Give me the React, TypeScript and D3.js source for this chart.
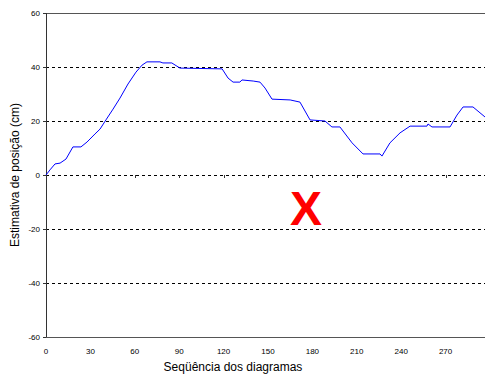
import React from "react";
import * as d3 from "d3";

// sequence index (diagram number) and estimated position in cm
const seqX = [
  0, 2.7, 6.1, 9.5, 13.5, 18.2, 23.6, 27.7, 33.1, 36.5, 40.5, 45.3, 50, 55.4, 60.8, 64.9,
  68.2, 77, 79, 85, 90.5, 119, 123, 126.4, 131, 132.4, 140, 144.6, 148, 152.7, 165, 171.6,
  178.4, 188.5, 193.2, 198.6, 206.8, 214.2, 225.7, 227, 232.4, 239.2, 246, 257.4, 258.1,
  260.8, 273, 277.7, 281.8, 288.5, 296.6, 300,
];
const posY = [
  0, 1.9, 4.1, 4.4, 5.9, 10.4, 10.4, 12.2, 15.2, 17, 20.4, 24.4, 28.5, 33.7, 38.1, 40.7,
  41.9, 41.9, 41.5, 41.5, 39.6, 39.3, 35.9, 34.4, 34.4, 35.2, 34.8, 34.4, 32.2, 28.1, 27.8, 27,
  20.4, 20, 17.8, 17.8, 11.9, 7.8, 7.8, 7, 11.9, 15.6, 18.1, 18.1, 18.9,
  17.8, 17.8, 22.2, 25.2, 25.2, 21.5, 20.3,
];
const xTicks = [0, 30, 60, 90, 120, 150, 180, 210, 240, 270];
const yTicks = [-60, -40, -20, 0, 20, 40, 60];
const gridValues = [-40, -20, 0, 20, 40];

const W = 485;
const H = 376;
const margin = { top: 13, left: 46, bottom: 39 };

export default function App() {
  const x = d3.scaleLinear().domain([0, 300]).range([margin.left, margin.left + 444]);
  const y = d3.scaleLinear().domain([-60, 60]).range([H - margin.bottom, margin.top]);
  const line = d3
    .line<number>()
    .x((_, i) => x(seqX[i]))
    .y((d) => y(d));
  const tickFont = "Liberation Sans Narrow, Arial, Liberation Sans, sans-serif";

  return (
    <svg
      width={W}
      height={H}
      style={{ position: "absolute", left: 0, top: 0, background: "#fff" }}
      fontFamily="Arial, Liberation Sans, sans-serif"
    >
      {/* dashed gridlines */}
      {gridValues.map((v) => (
        <line
          key={v}
          x1={x(0)}
          x2={W}
          y1={Math.round(y(v)) + 0.5}
          y2={Math.round(y(v)) + 0.5}
          stroke="#000"
          strokeDasharray="3,3"
        />
      ))}
      {/* top and bottom frame */}
      <line x1={x(0)} x2={W} y1={y(60) + 0.5} y2={y(60) + 0.5} stroke="#555" />
      <line x1={x(0)} x2={W} y1={y(-60) + 0.5} y2={y(-60) + 0.5} stroke="#555" />
      {/* left axis */}
      <line x1={x(0) + 0.5} x2={x(0) + 0.5} y1={y(60)} y2={y(-60)} stroke="#333" />
      {yTicks.map((v) => (
        <g key={v}>
          <line x1={x(0) - 3} x2={x(0)} y1={y(v) + 0.5} y2={y(v) + 0.5} stroke="#333" />
          <text
            x={x(0) - 6}
            y={y(v) + 3}
            textAnchor="end"
            fontSize={8}
            fontFamily={tickFont}
            fill="#000"
          >
            {v}
          </text>
        </g>
      ))}
      {/* x ticks sit on the zero line */}
      {xTicks.map((v) => (
        <g key={v}>
          {v > 0 && (
            <line
              x1={Math.round(x(v)) + 0.5}
              x2={Math.round(x(v)) + 0.5}
              y1={y(0)}
              y2={y(0) + 3}
              stroke="#333"
            />
          )}
          <text
            x={x(v)}
            y={y(-60) + 17}
            textAnchor="middle"
            fontSize={8}
            fontFamily={tickFont}
            fill="#000"
          >
            {v}
          </text>
        </g>
      ))}
      {/* series */}
      <path d={line(posY) ?? ""} fill="none" stroke="#0000ff" strokeWidth={1} />
      {/* axis titles */}
      <text x={233} y={371} textAnchor="middle" fontSize={12} fill="#000">
        Seqüência dos diagramas
      </text>
      <text
        transform={`translate(19,${y(0)}) rotate(-90)`}
        textAnchor="middle"
        fontSize={12}
        fill="#000"
      >
        Estimativa de posição (cm)
      </text>
      {/* red mark */}
      <text
        x={306}
        y={225}
        textAnchor="middle"
        fontSize={48}
        fontWeight="bold"
        fill="#ff0000"
      >
        X
      </text>
    </svg>
  );
}
